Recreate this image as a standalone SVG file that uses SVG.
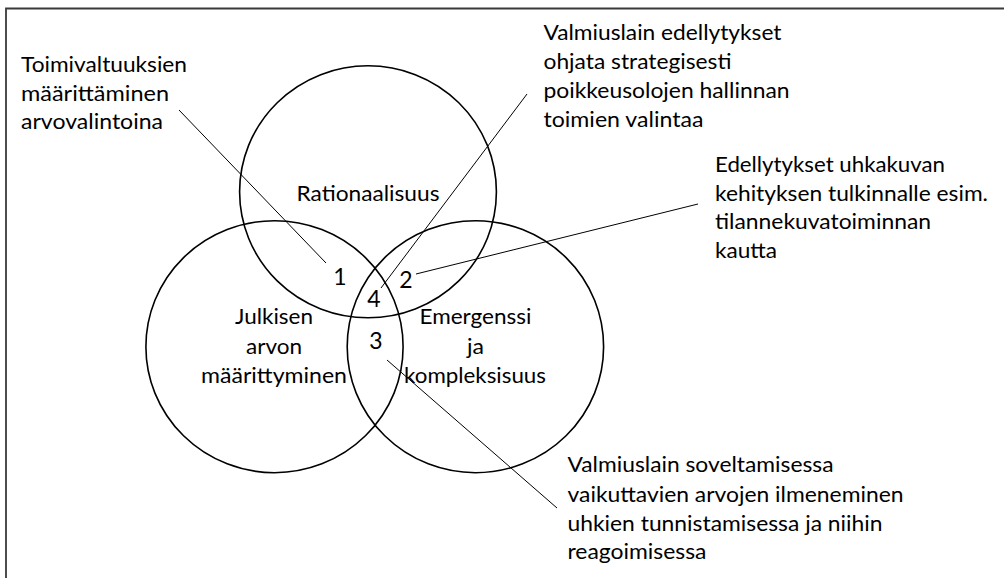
<svg xmlns="http://www.w3.org/2000/svg" width="1004" height="578" viewBox="0 0 1004 578">
  <style>
    .bg { fill: #ffffff; }
    .frame { fill: none; stroke: #3a3a3a; stroke-width: 1.8; }
    .circle { fill: none; stroke: #000000; stroke-width: 1.6; }
    .lead { stroke: #000000; stroke-width: 1; fill: none; }
    text { font-family: Lato, "Open Sans", "Liberation Sans", sans-serif; font-size: 21.5px; fill: #000000; }
    .c { text-anchor: middle; }
    .num { font-size: 23px; text-anchor: middle; }
  </style>
  <rect class="bg" x="0" y="0" width="1004" height="578"/>
  <path class="frame" d="M6,578 V8.5 H1004"/>

  <g id="circle-rationaalisuus">
    <ellipse class="circle" cx="368" cy="191.8" rx="128.4" ry="126"/>
    <text class="c" x="368" y="201" textLength="143" lengthAdjust="spacingAndGlyphs">Rationaalisuus</text>
  </g>
  <g id="circle-julkisen-arvon">
    <ellipse class="circle" cx="274.5" cy="346.7" rx="128.6" ry="126"/>
    <text class="c" x="274" y="324" textLength="78" lengthAdjust="spacingAndGlyphs">Julkisen</text>
    <text class="c" x="274" y="354" textLength="56" lengthAdjust="spacingAndGlyphs">arvon</text>
    <text class="c" x="274" y="383" textLength="146" lengthAdjust="spacingAndGlyphs">määrittyminen</text>
  </g>
  <g id="circle-emergenssi">
    <ellipse class="circle" cx="475.4" cy="346.7" rx="128.2" ry="126"/>
    <text class="c" x="475.5" y="324" textLength="112" lengthAdjust="spacingAndGlyphs">Emergenssi</text>
    <text class="c" x="475.5" y="354" textLength="17" lengthAdjust="spacingAndGlyphs">ja</text>
    <text class="c" x="475" y="383" textLength="142" lengthAdjust="spacingAndGlyphs">kompleksisuus</text>
  </g>

  <g id="connectors">
    <line class="lead" x1="179" y1="110" x2="326" y2="263"/>
    <line class="lead" x1="527" y1="94" x2="381" y2="288"/>
    <line class="lead" x1="698" y1="204" x2="416" y2="274"/>
    <line class="lead" x1="387" y1="360" x2="557" y2="508"/>
  </g>

  <g id="area-1"><text class="num" x="340" y="285">1</text></g>
  <g id="area-2"><text class="num" x="406" y="288">2</text></g>
  <g id="area-3"><text class="num" x="376" y="349">3</text></g>
  <g id="area-4"><text class="num" x="374" y="307">4</text></g>

  <g id="note-1">
    <text x="21" y="72" textLength="166" lengthAdjust="spacingAndGlyphs">Toimivaltuuksien</text>
    <text x="21" y="100.7" textLength="148" lengthAdjust="spacingAndGlyphs">määrittäminen</text>
    <text x="21" y="129" textLength="142" lengthAdjust="spacingAndGlyphs">arvovalintoina</text>
  </g>
  <g id="note-4">
    <text x="543.5" y="40" textLength="238" lengthAdjust="spacingAndGlyphs">Valmiuslain edellytykset</text>
    <text x="543.5" y="69" textLength="188" lengthAdjust="spacingAndGlyphs">ohjata strategisesti</text>
    <text x="543.5" y="98" textLength="246" lengthAdjust="spacingAndGlyphs">poikkeusolojen hallinnan</text>
    <text x="543.5" y="127" textLength="160" lengthAdjust="spacingAndGlyphs">toimien valintaa</text>
  </g>
  <g id="note-2">
    <text x="715" y="172" textLength="230" lengthAdjust="spacingAndGlyphs">Edellytykset uhkakuvan</text>
    <text x="715" y="200.7" textLength="273" lengthAdjust="spacingAndGlyphs">kehityksen tulkinnalle esim.</text>
    <text x="715" y="229" textLength="216" lengthAdjust="spacingAndGlyphs">tilannekuvatoiminnan</text>
    <text x="715" y="258" textLength="62" lengthAdjust="spacingAndGlyphs">kautta</text>
  </g>
  <g id="note-3">
    <text x="567.5" y="472" textLength="266" lengthAdjust="spacingAndGlyphs">Valmiuslain soveltamisessa</text>
    <text x="567.5" y="501.5" textLength="336" lengthAdjust="spacingAndGlyphs">vaikuttavien arvojen ilmeneminen</text>
    <text x="567.5" y="530.5" textLength="315" lengthAdjust="spacingAndGlyphs">uhkien tunnistamisessa ja niihin</text>
    <text x="567.5" y="559" textLength="139" lengthAdjust="spacingAndGlyphs">reagoimisessa</text>
  </g>
</svg>
